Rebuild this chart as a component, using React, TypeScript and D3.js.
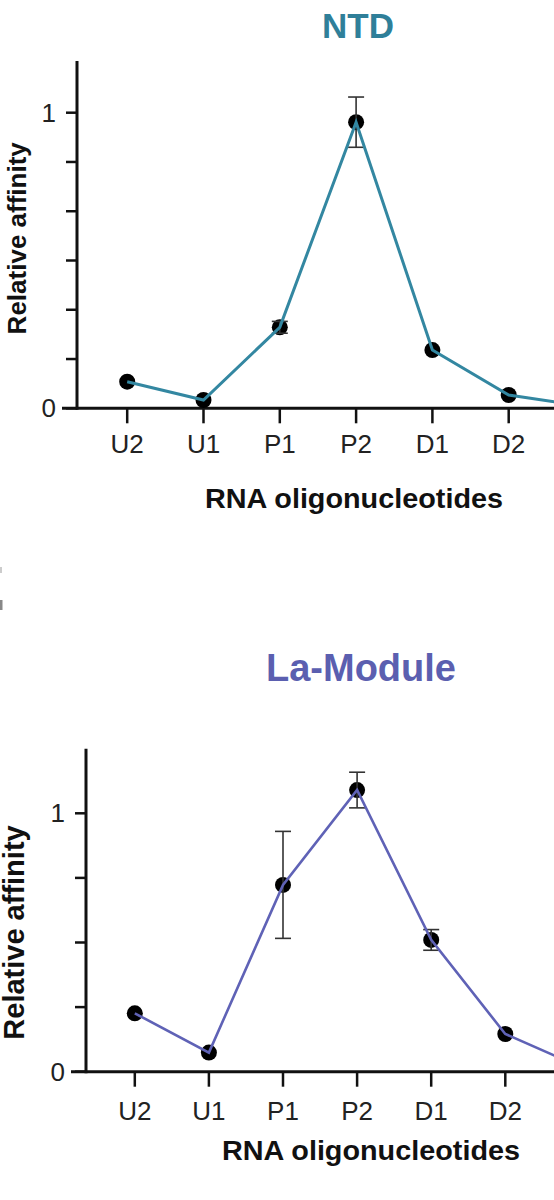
import React, { useEffect, useRef } from 'react';
import * as d3 from 'd3';

// Oligonucleotide positions along the x axis (last one runs off the right edge)
const categories = ['U2', 'U1', 'P1', 'P2', 'D1', 'D2', 'D3'];

// NTD panel
const ntdValues = [0.09, 0.028, 0.274, 0.968, 0.197, 0.045, 0.007];
const ntdErrors = [0, 0, 0.02, 0.085, 0, 0, 0];
const ntdTicks = [0, 1 / 6, 2 / 6, 3 / 6, 4 / 6, 5 / 6, 1];

// La-Module panel
const laValues = [0.226, 0.074, 0.723, 1.09, 0.51, 0.146, 0.02];
const laErrors = [0, 0, 0.207, 0.069, 0.04, 0, 0];
const laTicks = [0, 0.25, 0.5, 0.75, 1];

const labelledTicks = [0, 1];

const FONT = "'Liberation Sans', Arial, Helvetica, sans-serif";

interface Panel {
  title: string;
  titleColor: string;
  lineColor: string;
  values: number[];
  errors: number[];
  ticks: number[];
  yMax: number;
  // layout
  axisX: number;
  y0: number;
  unit: number;
  x0: number;
  step: number;
  titleX: number;
  titleY: number;
  titleSize: number;
  yTitleX: number;
  yTitleY: number;
  yTitleSize: number;
  tickLabelY: number;
  xTitleX: number;
  xTitleY: number;
  lineWidth: number;
}

const panels: Panel[] = [
  {
    title: 'NTD', titleColor: '#2f7f99', lineColor: '#3387a1',
    values: ntdValues, errors: ntdErrors, ticks: ntdTicks, yMax: 1.175,
    axisX: 77, y0: 408.3, unit: 295.6, x0: 127.2, step: 76.3,
    titleX: 358, titleY: 37.5, titleSize: 35,
    yTitleX: 26, yTitleY: 238.3, yTitleSize: 26,
    tickLabelY: 453.3, xTitleX: 354, xTitleY: 508.3, lineWidth: 3,
  },
  {
    title: 'La-Module', titleColor: '#5b5fb0', lineColor: '#5f62b6',
    values: laValues, errors: laErrors, ticks: laTicks, yMax: 1.25,
    axisX: 86, y0: 1071.7, unit: 258.4, x0: 134.8, step: 74.1,
    titleX: 361, titleY: 680.5, titleSize: 38,
    yTitleX: 24, yTitleY: 932.5, yTitleSize: 29,
    tickLabelY: 1120, xTitleX: 371, xTitleY: 1160, lineWidth: 2.6,
  },
];

const App: React.FC = () => {
  const svgRef = useRef<SVGSVGElement>(null);

  useEffect(() => {
    if (!svgRef.current) return;
    const svg = d3.select(svgRef.current);
    svg.selectAll('*').remove();

    svg.append('rect').attr('width', 554).attr('height', 1200).attr('fill', '#fff');

    // small cut-off marks at the left edge
    svg.append('rect').attr('x', 0).attr('y', 567).attr('width', 2).attr('height', 6).attr('fill', '#ccc');
    svg.append('rect').attr('x', 0).attr('y', 600).attr('width', 2.5).attr('height', 10).attr('fill', '#888');

    panels.forEach(p => {
      const g = svg.append('g');

      const x = d3
        .scalePoint<string>()
        .domain(categories)
        .range([p.x0, p.x0 + p.step * (categories.length - 1)]);

      const y = d3
        .scaleLinear()
        .domain([0, p.yMax])
        .range([p.y0, p.y0 - p.unit * p.yMax]);

      // Title
      g.append('text')
        .attr('x', p.titleX)
        .attr('y', p.titleY)
        .attr('text-anchor', 'middle')
        .style('font-family', FONT)
        .style('font-weight', 'bold')
        .style('font-size', `${p.titleSize}px`)
        .style('fill', p.titleColor)
        .text(p.title);

      // Y axis
      g.append('line')
        .attr('x1', p.axisX).attr('x2', p.axisX)
        .attr('y1', y(p.yMax)).attr('y2', y(0) + 1.5)
        .attr('stroke', '#111').attr('stroke-width', 3);

      p.ticks.forEach(t => {
        g.append('line')
          .attr('x1', p.axisX - 11).attr('x2', p.axisX)
          .attr('y1', y(t)).attr('y2', y(t))
          .attr('stroke', '#111').attr('stroke-width', 2.5);
      });

      labelledTicks.forEach(t => {
        g.append('text')
          .attr('x', p.axisX - 21)
          .attr('y', y(t))
          .attr('dy', '0.35em')
          .attr('text-anchor', 'end')
          .style('font-family', FONT)
          .style('font-size', '26px')
          .style('fill', '#222')
          .text(String(t));
      });

      // X axis (starts at the 0 tick)
      g.append('line')
        .attr('x1', p.axisX - 15).attr('x2', 560)
        .attr('y1', y(0)).attr('y2', y(0))
        .attr('stroke', '#111').attr('stroke-width', 3);

      categories.forEach(c => {
        g.append('line')
          .attr('x1', x(c)!).attr('x2', x(c)!)
          .attr('y1', y(0)).attr('y2', y(0) + 15)
          .attr('stroke', '#111').attr('stroke-width', 2.5);

        g.append('text')
          .attr('x', x(c)!)
          .attr('y', p.tickLabelY)
          .attr('text-anchor', 'middle')
          .style('font-family', FONT)
          .style('font-size', '26px')
          .style('fill', '#222')
          .text(c);
      });

      // Axis titles
      g.append('text')
        .attr('x', p.xTitleX)
        .attr('y', p.xTitleY)
        .attr('text-anchor', 'middle')
        .attr('textLength', 298)
        .attr('lengthAdjust', 'spacingAndGlyphs')
        .style('font-family', FONT)
        .style('font-weight', 'bold')
        .style('font-size', '27.5px')
        .style('fill', '#111')
        .text('RNA oligonucleotides');

      g.append('text')
        .attr('transform', `translate(${p.yTitleX},${p.yTitleY}) rotate(-90)`)
        .attr('text-anchor', 'middle')
        .style('font-family', FONT)
        .style('font-weight', 'bold')
        .style('font-size', `${p.yTitleSize}px`)
        .style('fill', '#111')
        .text('Relative affinity');

      const pts = categories.map((c, i) => ({ c, v: p.values[i], e: p.errors[i] }));

      // Dots
      g.selectAll('.dot')
        .data(pts)
        .enter()
        .append('circle')
        .attr('cx', d => x(d.c)!)
        .attr('cy', d => y(d.v))
        .attr('r', 8)
        .attr('fill', '#000');

      // Error bars
      pts.filter(d => d.e > 0).forEach(d => {
        const cx = x(d.c)!;
        const eb = g.append('g').attr('stroke', '#333').attr('stroke-width', 1.6);
        eb.append('line').attr('x1', cx).attr('x2', cx).attr('y1', y(d.v - d.e)).attr('y2', y(d.v + d.e));
        eb.append('line').attr('x1', cx - 8).attr('x2', cx + 8).attr('y1', y(d.v - d.e)).attr('y2', y(d.v - d.e));
        eb.append('line').attr('x1', cx - 8).attr('x2', cx + 8).attr('y1', y(d.v + d.e)).attr('y2', y(d.v + d.e));
      });

      // Connecting line
      const line = d3
        .line<{ c: string; v: number }>()
        .x(d => x(d.c)!)
        .y(d => y(d.v));

      g.append('path')
        .datum(pts)
        .attr('fill', 'none')
        .attr('stroke', p.lineColor)
        .attr('stroke-width', p.lineWidth)
        .attr('d', line);
    });
  }, []);

  return (
    <svg
      ref={svgRef}
      width={554}
      height={1200}
      style={{ position: 'absolute', left: 0, top: 0 }}
    />
  );
};

export default App;
